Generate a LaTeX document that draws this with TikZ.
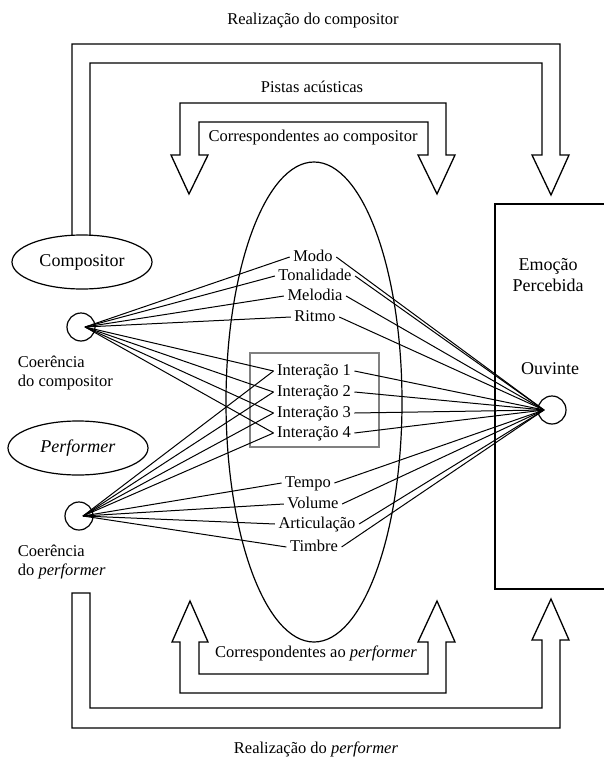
\documentclass[tikz,border=0pt]{standalone}
\usepackage{fontspec}
\setmainfont{Liberation Serif}
\usetikzlibrary{shapes.geometric}
\begin{document}
\begin{tikzpicture}[x=1pt,y=-1pt,line width=1.2pt,
  every node/.style={font=\fontsize{16.5}{19.5}\selectfont},
  big/.style={font=\fontsize{18}{21}\selectfont},
  lbl/.style={inner sep=3pt,text height=11pt,text depth=3pt},
  conn/.style={line width=1pt},
  bigarrow/.style={line width=1.3pt,line join=miter},
  ring/.style={draw,circle,minimum size=28pt,inner sep=0pt,line width=1.2pt},
  oval/.style={draw,ellipse,minimum width=140pt,minimum height=54pt,inner sep=0pt,line width=1.2pt,big}]
\useasboundingbox (0,0) rectangle (604,760);

% central ellipse
\node[draw,ellipse,minimum width=176pt,minimum height=480pt,inner sep=0pt,line width=1.2pt] (cues) at (314,402) {};

% listener box (right side open, cut by the page edge)
\draw[line width=1.2pt] (606,204) -- (495,204) -- (495,589) -- (606,589);
\node[align=center,big] (emo) at (548,275) {Emoção\\Percebida};
\node[big] (ouv) at (550,369) {Ouvinte};
\node[ring] (ovc) at (552,410) {};
\coordinate (ovp) at (544,410);

% composer / performer
\node[oval] (comp) at (82,262) {Compositor};
\node[oval] (perf) at (78,448) {\textit{Performer}};
\node[ring] (ccc) at (81,327) {};
\coordinate (ccp) at (85,327);
\node[ring] (pcc) at (79,516) {};
\coordinate (pcp) at (83,516);
\node[anchor=west,align=left] (cctext) at (14,373) {Coerência\\do compositor};
\node[anchor=west,align=left] (pctext) at (14,562) {Coerência\\do \textit{performer}};

% interaction box
\draw[gray,line width=1.1pt] (250,353) rectangle (379,447);

% cue labels
\node[lbl] (modo)  at (313,257) {Modo};
\node[lbl] (tonal) at (315,276) {Tonalidade};
\node[lbl] (melod) at (315,296) {Melodia};
\node[lbl] (ritmo) at (315,317) {Ritmo};
\node[lbl] (i1) at (314,371) {Interação 1};
\node[lbl] (i2) at (314,392) {Interação 2};
\node[lbl] (i3) at (314,413) {Interação 3};
\node[lbl] (i4) at (314,433) {Interação 4};
\node[lbl] (tempo) at (308,483) {Tempo};
\node[lbl] (vol)   at (313,504) {Volume};
\node[lbl] (artic) at (317,524) {Articulação};
\node[lbl] (timb)  at (314,547) {Timbre};

% connectors
\foreach \n in {modo,tonal,melod,ritmo,i1,i2,i3,i4}
  \draw[conn] (ccp) -- (\n.west);
\foreach \n in {i1,i2,i3,i4,tempo,vol,artic,timb}
  \draw[conn] (pcp) -- (\n.west);
\foreach \n in {modo,tonal,melod,ritmo,i1,i2,i3,i4,tempo,vol,artic,timb}
  \draw[conn] (\n.east) -- (ovp);

% top outer arrow: composer realization
\draw[bigarrow] (72,235.5) -- (72,44) -- (560,44) -- (560,155) -- (569,155) -- (551,195)
  -- (532,155) -- (542,155) -- (542,63) -- (90,63) -- (90,235.5);
\node (realc) at (313,21) {Realização do compositor};

% top middle arrow: acoustic cues
\draw[bigarrow] (180,103) -- (446,103) -- (446,155) -- (455,155) -- (437,194) -- (418,155)
  -- (428,155) -- (428,122) -- (199,122) -- (199,155) -- (208,155) -- (189,194)
  -- (171,155) -- (180,155) -- cycle;
\node (pistas) at (312,87) {Pistas acústicas};
\node (corrc) at (313,138) {Correspondentes ao compositor};

% bottom middle arrow
\draw[bigarrow] (180,693) -- (446,693) -- (446,642) -- (455,642) -- (437,601) -- (418,642)
  -- (428,642) -- (428,674) -- (199,674) -- (199,642) -- (208,642) -- (190,601)
  -- (172,642) -- (180,642) -- cycle;
\node (corrp) at (316,653) {Correspondentes ao \textit{performer}};

% bottom outer arrow: performer realization
\draw[bigarrow] (72,593) -- (72,728) -- (560,728) -- (560,640) -- (569,640) -- (551,599)
  -- (532,640) -- (542,640) -- (542,708) -- (90,708) -- (90,593) -- cycle;
\node (realp) at (316,749) {Realização do \textit{performer}};
\end{tikzpicture}
\end{document}
